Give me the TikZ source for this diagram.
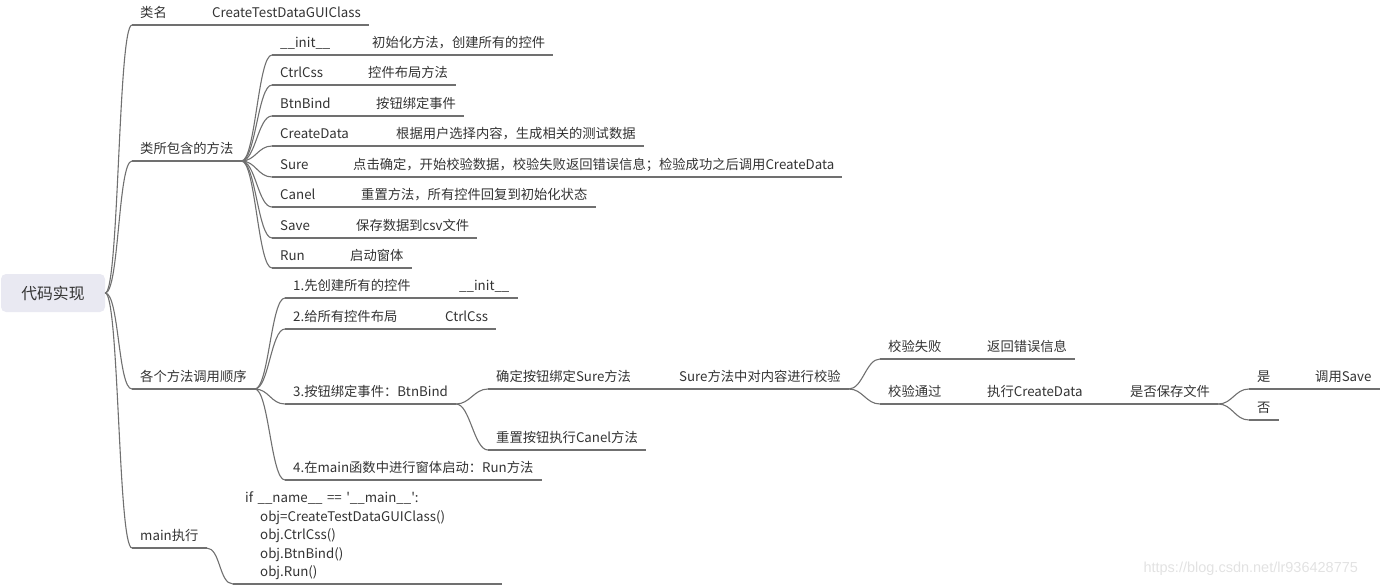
\documentclass[tikz,border=0pt]{standalone}
\usepackage{fontspec}
\usepackage{xcolor}
\usepackage{tikz}
\newfontfamily\cn{Noto Sans CJK SC}
\newfontfamily\wmfont{Liberation Sans}
\definecolor{linecol}{RGB}{112,112,112}
\definecolor{textcol}{RGB}{51,51,51}
\definecolor{rootfill}{RGB}{233,233,242}
\definecolor{wmcol}{RGB}{226,226,226}
\newcommand\itemfont{\cn\fontsize{13.3pt}{16pt}\selectfont}
\tikzset{
  underline/.style={append after command={(\tikzlastnode.south west)
                    edge[draw=linecol, line width=1.1pt] (\tikzlastnode.south east)}},
  rootbox/.style={rectangle, rounded corners=5pt, fill=rootfill, text=textcol,
                  minimum width=104pt, minimum height=38pt,
                  font=\cn\fontsize{15.8pt}{18pt}\selectfont},
  item/.style={anchor=south west, inner xsep=8pt, inner ysep=0pt,
               text height=10.5pt, text depth=7pt, text=textcol,
               font=\itemfont, underline},
  codebox/.style={anchor=south west, inner xsep=12pt, inner ysep=0pt,
                  text width=245pt, align=left, text=textcol,
                  font=\cn\fontsize{13.3pt}{18.5pt}\selectfont, underline},
  link/.style={draw=linecol, line width=1.1pt,
               to path={.. controls +(14,0) and +(-14,0) .. (\tikztotarget)}},
}

\begin{document}
\begin{tikzpicture}[x=1pt, y=-1pt]
    \useasboundingbox (0,0) rectangle (1384,586);
    \node[rootbox] (root) at (53,293) {代码实现};

    \node[item] (clsname) at (132,25) {类名};
    \node[item] (clsval)  at (204,25) {CreateTestDataGUIClass};

    \node[item] (methods) at (132,161) {类所包含的方法};
    \node[item] (mInit)   at (272,55)  {\_\_init\_\_};
    \node[item] (dInit)   at (364,55)  {初始化方法，创建所有的控件};
    \node[item] (mCss)    at (272,85)  {CtrlCss};
    \node[item] (dCss)    at (360,85)  {控件布局方法};
    \node[item] (mBind)   at (272,116) {BtnBind};
    \node[item] (dBind)   at (368,116) {按钮绑定事件};
    \node[item] (mData)   at (272,146) {CreateData};
    \node[item] (dData)   at (388,146) {根据用户选择内容，生成相关的测试数据};
    \node[item] (mSure)   at (272,177) {Sure};
    \node[item] (dSure)   at (345,177) {点击确定，开始校验数据，校验失败返回错误信息；检验成功之后调用CreateData};
    \node[item] (mCanel)  at (272,207) {Canel};
    \node[item] (dCanel)  at (353,207) {重置方法，所有控件回复到初始化状态};
    \node[item] (mSave)   at (272,238) {Save};
    \node[item] (dSave)   at (348,238) {保存数据到csv文件};
    \node[item] (mRun)    at (272,268) {Run};
    \node[item] (dRun)    at (342,268) {启动窗体};

    \node[item] (order)   at (132,389) {各个方法调用顺序};
    \node[item] (step1)   at (285,298) {1.先创建所有的控件};
    \node[item] (step1v)  at (451,298) {\_\_init\_\_};
    \node[item] (step2)   at (285,329) {2.给所有控件布局};
    \node[item] (step2v)  at (437,329) {CtrlCss};
    \node[item] (step3)   at (285,404) {3.按钮绑定事件：BtnBind};
    \node[item] (sureBtn) at (488,389) {确定按钮绑定Sure方法};
    \node[item] (check)   at (671,389) {Sure方法中对内容进行校验};
    \node[item] (fail)    at (880,359) {校验失败};
    \node[item] (failv)   at (979,359) {返回错误信息};
    \node[item] (pass)    at (880,404) {校验通过};
    \node[item] (passv)   at (979,404) {执行CreateData};
    \node[item] (ask)     at (1122,404) {是否保存文件};
    \node[item] (yes)     at (1249,389) {是};
    \node[item] (yesv)    at (1307,389) {调用Save};
    \node[item] (no)      at (1249,420) {否};
    \node[item] (canelBtn) at (488,450) {重置按钮执行Canel方法};
    \node[item] (step4)   at (285,480) {4.在main函数中进行窗体启动：Run方法};

    \node[item] (mainrun) at (132,548) {main执行};
    \node[codebox] (mainsrc) at (233,584) {if \_\_name\_\_ == '\_\_main\_\_':\\
      \hspace*{15pt}obj=CreateTestDataGUIClass()\\
      \hspace*{15pt}obj.CtrlCss()\\
      \hspace*{15pt}obj.BtnBind()\\
      \hspace*{15pt}obj.Run()\rule[-7pt]{0pt}{7pt}};

    \node[font=\wmfont\fontsize{14.5pt}{16pt}\selectfont, text=wmcol, anchor=base west]
      (wm) at (1140,572) {https://blog.csdn.net/lr936428775};

    \draw[link] (root.east) to (clsname.south west);
    \draw[link] (root.east) to (methods.south west);
    \draw[link] (root.east) to (order.south west);
    \draw[link] (root.east) to (mainrun.south west);
    \draw[link] (clsname.south east) to (clsval.south west);

    \foreach \m/\d in {mInit/dInit, mCss/dCss, mBind/dBind, mData/dData,
                       mSure/dSure, mCanel/dCanel, mSave/dSave, mRun/dRun} {
      \draw[link] (methods.south east) to (\m.south west);
      \draw[link] (\m.south east) to (\d.south west);
    }

    \foreach \s in {step1, step2, step3, step4}
      \draw[link] (order.south east) to (\s.south west);
    \draw[link] (step1.south east) to (step1v.south west);
    \draw[link] (step2.south east) to (step2v.south west);
    \draw[link] (step3.south east) to (sureBtn.south west);
    \draw[link] (step3.south east) to (canelBtn.south west);
    \draw[link] (sureBtn.south east) to (check.south west);
    \draw[link] (check.south east) to (fail.south west);
    \draw[link] (check.south east) to (pass.south west);
    \draw[link] (fail.south east) to (failv.south west);
    \draw[link] (pass.south east) to (passv.south west);
    \draw[link] (passv.south east) to (ask.south west);
    \draw[link] (ask.south east) to (yes.south west);
    \draw[link] (ask.south east) to (no.south west);
    \draw[link] (yes.south east) to (yesv.south west);

    \draw[link] (mainrun.south east) to (mainsrc.south west);
\end{tikzpicture}
\end{document}
